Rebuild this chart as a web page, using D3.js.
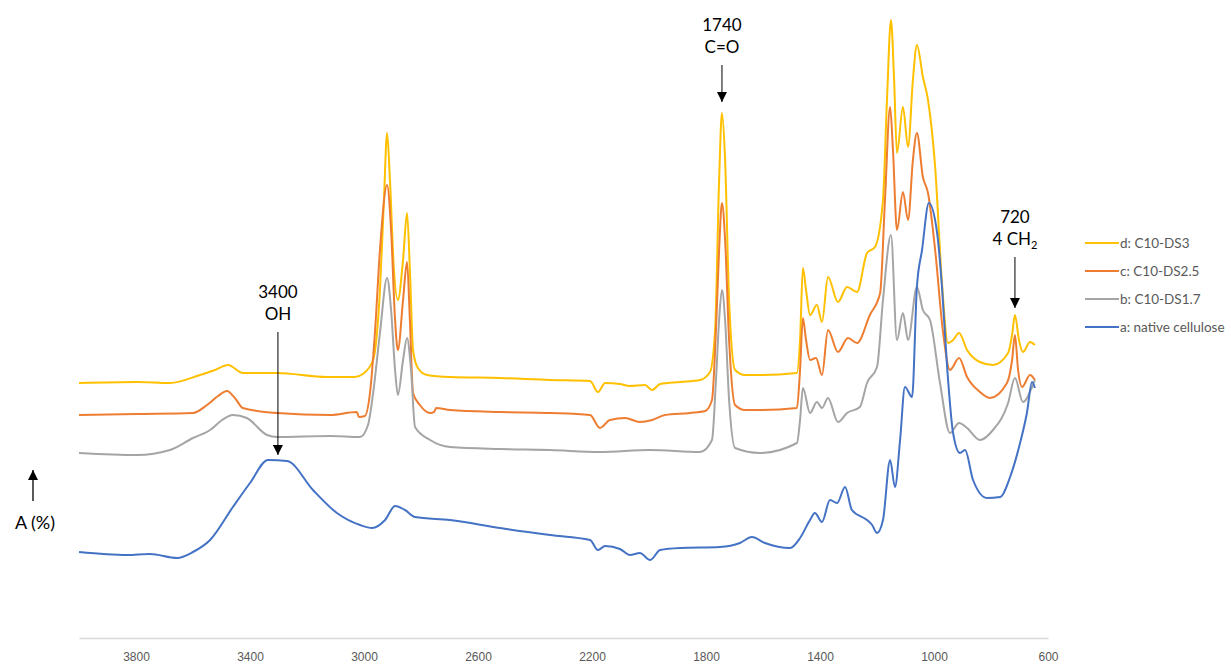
<!DOCTYPE html>
<html>
<head>
<meta charset="utf-8">
<script src="https://cdn.jsdelivr.net/npm/d3@7"></script>
<style>
  body { margin: 0; background: #fff; }
  svg { display: block; font-family: Lato, "Open Sans", sans-serif; }
  .axis text { fill: #595959; font-size: 12px; }
  .axis path { stroke: #d9d9d9; }
  .legend text { fill: #595959; font-size: 13.5px; }
  .note { fill: #000; font-size: 17px; text-anchor: middle; }
</style>
</head>
<body>
<div id="chart"></div>
<script>
// wavenumbers (cm-1) and absorbance readings, one pair of arrays per sample
var waveD = [4000,3796,3681,3575,3523,3477,3425,3305,3130,3032,3004,2968,2944,2930,2919,2909,2895,2881,2863,2849,2839,2828,2811,2779,2698,2523,2347,2207,2179,2154,2102,2067,2014,1989,1961,1891,1821,1786,1768,1754,1744,1733,1719,1698,1663,1611,1481,1470,1460,1449,1435,1411,1393,1372,1337,1305,1270,1235,1207,1179,1165,1151,1140,1130,1109,1091,1074,1060,1039,1021,996,972,951,933,912,884,839,793,740,726,716,702,688,663,646];
var valD  = [0.514,0.516,0.514,0.530,0.540,0.550,0.534,0.534,0.526,0.526,0.532,0.560,0.700,0.880,1.014,0.920,0.740,0.680,0.760,0.854,0.740,0.580,0.544,0.530,0.526,0.524,0.520,0.518,0.496,0.514,0.512,0.508,0.510,0.500,0.512,0.516,0.520,0.536,0.620,0.920,1.054,0.960,0.680,0.540,0.530,0.530,0.534,0.600,0.744,0.700,0.650,0.670,0.636,0.726,0.676,0.706,0.696,0.774,0.786,0.880,1.080,1.240,1.120,0.974,1.066,0.986,1.120,1.190,1.126,1.080,0.946,0.714,0.594,0.600,0.614,0.580,0.556,0.550,0.574,0.610,0.650,0.600,0.576,0.596,0.590];

var waveC = [4000,3796,3600,3551,3512,3481,3453,3425,3305,3119,3025,3018,2997,2979,2961,2944,2919,2905,2891,2881,2863,2849,2839,2828,2804,2768,2754,2747,2698,2523,2347,2207,2172,2137,2084,2032,1989,1944,1856,1803,1779,1765,1754,1744,1733,1719,1698,1663,1611,1481,1470,1460,1449,1435,1414,1393,1372,1337,1302,1270,1225,1189,1172,1154,1144,1130,1109,1091,1074,1060,1039,1021,996,968,944,912,884,839,804,744,726,716,705,691,663,646];
var valC  = [0.450,0.452,0.454,0.470,0.488,0.498,0.484,0.464,0.454,0.450,0.456,0.446,0.448,0.494,0.620,0.780,0.910,0.820,0.640,0.580,0.680,0.756,0.640,0.494,0.470,0.454,0.456,0.464,0.460,0.456,0.454,0.450,0.424,0.440,0.444,0.436,0.440,0.450,0.454,0.458,0.480,0.620,0.780,0.874,0.800,0.600,0.470,0.460,0.460,0.464,0.540,0.644,0.600,0.560,0.564,0.530,0.620,0.576,0.604,0.594,0.650,0.694,0.880,1.066,0.980,0.820,0.896,0.840,0.960,1.014,0.926,0.894,0.780,0.614,0.540,0.564,0.526,0.496,0.484,0.514,0.560,0.610,0.540,0.506,0.530,0.520];

var waveB = [4000,3796,3681,3600,3540,3498,3460,3411,3340,3305,3119,3014,2986,2968,2944,2919,2905,2891,2881,2863,2849,2835,2821,2768,2698,2523,2347,2172,1996,1821,1779,1765,1754,1744,1733,1719,1698,1611,1481,1470,1460,1435,1411,1393,1372,1337,1305,1260,1235,1200,1179,1151,1130,1109,1091,1060,1039,1014,979,944,912,884,839,793,740,716,688,656,646];
var valB  = [0.374,0.370,0.380,0.404,0.420,0.440,0.450,0.444,0.410,0.406,0.408,0.406,0.430,0.494,0.614,0.724,0.660,0.540,0.490,0.560,0.604,0.540,0.426,0.400,0.386,0.382,0.380,0.376,0.380,0.376,0.400,0.520,0.640,0.700,0.640,0.480,0.384,0.374,0.394,0.440,0.504,0.454,0.476,0.464,0.484,0.436,0.454,0.466,0.514,0.546,0.680,0.810,0.600,0.654,0.600,0.706,0.660,0.640,0.514,0.414,0.434,0.424,0.400,0.420,0.474,0.524,0.476,0.506,0.520];

var waveA = [4000,3832,3751,3656,3600,3540,3460,3400,3337,3270,3179,3095,3014,2972,2926,2891,2856,2821,2698,2523,2347,2207,2179,2154,2102,2067,2032,1996,1961,1891,1751,1681,1639,1593,1505,1470,1435,1418,1393,1365,1340,1312,1288,1235,1217,1200,1179,1154,1137,1119,1102,1077,1060,1042,1018,989,972,954,933,909,891,863,814,768,733,698,674,656,646];
var valA  = [0.176,0.170,0.172,0.164,0.176,0.200,0.266,0.314,0.360,0.358,0.300,0.254,0.230,0.224,0.240,0.268,0.260,0.246,0.240,0.224,0.210,0.200,0.180,0.188,0.182,0.170,0.174,0.160,0.180,0.184,0.186,0.194,0.206,0.194,0.184,0.204,0.240,0.254,0.236,0.280,0.274,0.306,0.260,0.240,0.230,0.214,0.240,0.360,0.306,0.400,0.506,0.486,0.706,0.780,0.874,0.814,0.706,0.546,0.414,0.374,0.380,0.320,0.284,0.286,0.326,0.394,0.454,0.516,0.504];

var seriesNames = ["d: C10-DS3", "c: C10-DS2.5", "b: C10-DS1.7", "a: native cellulose"];
var seriesColors = ["#FFC000", "#ED7D31", "#A5A5A5", "#4472C4"];
var tickValues = [3800, 3400, 3000, 2600, 2200, 1800, 1400, 1000, 600];

// peak annotations: label lines, where the arrow points, arrow start/end
var noteTop = ["3400", "1740", "720"];
var noteBottom = ["OH", "C=O", "4 CH"];
var noteWave = [3302, 1744, 716];
var noteFrom = [0.616, 1.150, 0.766];
var noteTo = [0.370, 1.076, 0.664];

var svgWidth = 1231;
var svgHeight = 664;
var margin = { top: 0, right: 183, bottom: 24, left: 79 };
var plotWidth = svgWidth - margin.left - margin.right;
var plotHeight = 640;

var svg = d3.select("#chart")
  .append("svg")
  .attr("width", svgWidth)
  .attr("height", svgHeight);

svg.append("defs").append("marker")
  .attr("id", "head")
  .attr("viewBox", "0 0 10 10")
  .attr("refX", 10)
  .attr("refY", 5)
  .attr("markerWidth", 10)
  .attr("markerHeight", 10)
  .attr("markerUnits", "userSpaceOnUse")
  .attr("orient", "auto")
  .append("path")
  .attr("d", "M0,0 L10,5 L0,10 Z")
  .attr("fill", "#000");

var chart = svg.append("g")
  .attr("transform", `translate(${margin.left}, ${margin.top})`);

var xScale = d3.scaleLinear().domain([4000, 600]).range([0, plotWidth]);
var yScale = d3.scaleLinear().domain([0, 1.28]).range([plotHeight, 0]);

// x axis, no ticks, light grey line
var bottomAxis = d3.axisBottom(xScale)
  .tickValues(tickValues)
  .tickSize(0)
  .tickPadding(14)
  .tickFormat(d3.format("d"));

chart.append("g")
  .attr("class", "axis")
  .attr("transform", `translate(0, ${plotHeight - 2})`)
  .call(bottomAxis)
  .call(g => g.select(".domain").attr("stroke-width", 1.3));

// spectra
var series = [
  { w: waveD, v: valD },
  { w: waveC, v: valC },
  { w: waveB, v: valB },
  { w: waveA, v: valA }
];

var line = d3.line()
  .x(d => xScale(d[0]))
  .y(d => yScale(d[1]))
  .curve(d3.curveMonotoneX);

series.forEach(function(s, i) {
  var pts = s.w.map((w, j) => [w, s.v[j]]);
  chart.append("path")
    .datum(pts)
    .attr("fill", "none")
    .attr("stroke", seriesColors[i])
    .attr("stroke-width", 2)
    .attr("stroke-linejoin", "round")
    .attr("d", line);
});

// annotations
noteWave.forEach(function(w, i) {
  var x = xScale(w);
  var y0 = yScale(noteFrom[i]);
  chart.append("line")
    .attr("x1", x).attr("x2", x)
    .attr("y1", y0).attr("y2", yScale(noteTo[i]))
    .attr("stroke", "#000")
    .attr("stroke-width", 1)
    .attr("marker-end", "url(#head)");
  chart.append("text")
    .attr("class", "note")
    .attr("x", x)
    .attr("y", y0 - 34)
    .text(noteTop[i]);
  var t = chart.append("text")
    .attr("class", "note")
    .attr("x", x)
    .attr("y", y0 - 12)
    .text(noteBottom[i]);
  if (i == 2) {
    t.append("tspan").attr("dy", 4).style("font-size", "11px").text("2");
  }
});

// y label with arrow
svg.append("line")
  .attr("x1", 33).attr("x2", 33)
  .attr("y1", 501).attr("y2", 470)
  .attr("stroke", "#000")
  .attr("stroke-width", 1.3)
  .attr("marker-end", "url(#head)");

svg.append("text")
  .attr("x", 35)
  .attr("y", 529)
  .attr("text-anchor", "middle")
  .style("font-size", "18px")
  .attr("fill", "#000")
  .text("A (%)");

// legend
var legend = svg.append("g").attr("class", "legend");
seriesNames.forEach(function(name, i) {
  var y = 243 + i * 28;
  legend.append("line")
    .attr("x1", 1085).attr("x2", 1119)
    .attr("y1", y).attr("y2", y)
    .attr("stroke", seriesColors[i])
    .attr("stroke-width", 2.2);
  legend.append("text")
    .attr("x", 1120)
    .attr("y", y + 5)
    .text(name);
});
</script>
</body>
</html>
